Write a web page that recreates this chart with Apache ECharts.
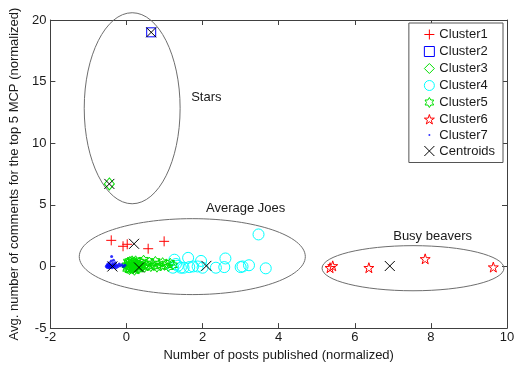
<!DOCTYPE html>
<html>
<head>
<meta charset="utf-8">
<script src="https://cdn.jsdelivr.net/npm/echarts@6/dist/echarts.min.js"></script>
<style>
  html, body { margin: 0; padding: 0; background: #fff; }
  #chart { width: 518px; height: 367px; }
</style>
</head>
<body>
<div id="chart"></div>
<script>
// ---- Data (normalized posts, normalized comments) ----
const cluster1 = [[-0.40, 2.12], [-0.09, 1.64], [0.02, 1.80], [0.57, 1.44], [0.99, 2.04]];
const cluster2 = [[0.65, 19.0]];
const cluster3 = [[-0.45, 6.7]];
const cluster4 = [
  [1.22, -0.10], [1.26, 0.55], [1.30, 0.20], [1.35, 0.05], [1.43, -0.10], [1.50, -0.10],
  [1.62, 0.70], [1.65, -0.05], [1.75, 0.00], [1.87, 0.00], [1.96, 0.45], [2.00, -0.10],
  [2.35, -0.10], [2.57, -0.05], [2.60, 0.65], [3.00, -0.05], [3.05, 0.00], [3.22, 0.10],
  [3.47, 2.60], [3.66, -0.15]
];
const cluster5 = [
  [0.00, 0.10], [0.02, -0.20], [0.03, -0.10], [0.04, 0.40], [0.05, 0.30], [0.06, 0.05],
  [0.07, 0.00], [0.08, -0.30], [0.09, 0.45], [0.10, -0.20], [0.11, 0.20], [0.12, 0.15],
  [0.13, -0.05], [0.14, 0.00], [0.15, 0.50], [0.16, 0.35], [0.17, -0.25], [0.18, -0.15],
  [0.19, 0.10], [0.20, 0.20], [0.21, -0.35], [0.22, 0.00], [0.23, 0.30], [0.24, 0.50],
  [0.25, -0.05], [0.26, -0.10], [0.27, 0.15], [0.28, 0.25], [0.29, -0.20], [0.30, 0.05],
  [0.32, -0.25], [0.34, 0.40], [0.36, 0.10], [0.38, -0.05], [0.40, 0.30], [0.42, 0.00],
  [0.45, 0.55], [0.48, -0.10], [0.52, 0.20], [0.56, 0.00], [0.60, 0.40], [0.64, -0.05],
  [0.68, 0.25], [0.72, 0.05], [0.76, 0.45], [0.80, -0.10], [0.85, 0.20], [0.90, 0.00],
  [0.95, 0.35], [1.00, 0.05], [1.05, 0.25], [1.10, -0.05], [1.15, 0.30], [1.22, 0.10]
];
const cluster6 = [[5.35, -0.10], [5.42, 0.05], [6.37, -0.10], [7.85, 0.62], [9.64, -0.05]];
const cluster7 = [
  [-0.53, 0.00], [-0.51, 0.10], [-0.50, -0.08], [-0.49, 0.20], [-0.47, 0.05], [-0.46, -0.10],
  [-0.45, 0.30], [-0.44, 0.10], [-0.43, -0.05], [-0.42, 0.15], [-0.41, 0.00], [-0.40, 0.45],
  [-0.39, 0.80], [-0.38, -0.10], [-0.37, 0.10], [-0.36, 0.25], [-0.35, 0.00], [-0.34, 0.50],
  [-0.33, -0.05], [-0.32, 0.15], [-0.30, 0.05], [-0.29, 0.30], [-0.27, -0.10], [-0.25, 0.10],
  [-0.22, 0.00], [-0.19, 0.20], [-0.16, 0.05], [-0.12, 0.15], [-0.08, 0.00], [-0.04, 0.10]
];
const centroids = [
  [0.20, 1.84], [0.65, 19.0], [-0.45, 6.7], [2.10, 0.05],
  [0.33, -0.08], [6.92, 0.04], [-0.37, 0.00]
];

const seriesNames = ['Cluster1', 'Cluster2', 'Cluster3', 'Cluster4', 'Cluster5', 'Cluster6', 'Cluster7', 'Centroids'];

// Axis ranges and ticks
const xTicks = { min: -2, max: 10, interval: 2 };
const yTicks = { min: -5, max: 20, interval: 5 };

// Group outlines: centre and radii in data units, plus their captions
const groupEllipses = [
  { cx: 0.15, cy: 12.84, rx: 1.26, ry: 7.75 },
  { cx: 1.73, cy: 0.80, rx: 2.97, ry: 3.08 },
  { cx: 7.53, cy: -0.14, rx: 2.39, ry: 1.83 }
];
const groupLabels = [
  { text: 'Stars', x: 1.70, y: 13.7 },
  { text: 'Average Joes', x: 2.09, y: 4.68 },
  { text: 'Busy beavers', x: 7.01, y: 2.44 }
];

// ---- Marker shapes ----
function starPath(points, innerRatio) {
  const c = 10, R = 10, r = R * innerRatio;
  let d = '';
  for (let i = 0; i < points * 2; i++) {
    const rad = (i % 2 === 0) ? R : r;
    const a = -Math.PI / 2 + i * Math.PI / points;
    const px = (c + rad * Math.cos(a)).toFixed(3);
    const py = (c + rad * Math.sin(a)).toFixed(3);
    d += (i === 0 ? 'M' : 'L') + px + ',' + py;
  }
  return 'path://' + d + 'Z';
}
const SYM_PLUS = 'path://M0,5L10,5M5,0L5,10';
const SYM_X = 'path://M0,0L10,10M10,0L0,10';
const SYM_HEX = starPath(6, 0.5774);
const SYM_PENT = starPath(5, 0.382);
const SYM_DOT_LEGEND = 'path://M0,0L0,0M10,10L10,10M4,5A1,1,0,1,0,6,5A1,1,0,1,0,4,5Z';

const RED = '#ff0000', BLUE = '#0000ff', GREEN = '#00e000', CYAN = '#00ffff', BLACK = '#000000';

function outlineStyle(color) {
  return { color: 'none', borderColor: color, borderWidth: 1, opacity: 1 };
}

const font = '"Liberation Sans", Arial, Helvetica, sans-serif';
const axisColor = '#404040';
const textColor = '#1a1a1a';

const chart = echarts.init(document.getElementById('chart'), null, { renderer: 'canvas' });

function axisBase(extra) {
  return Object.assign({
    type: 'value',
    axisLine: { show: true, onZero: false, lineStyle: { color: axisColor, width: 1 } },
    axisTick: { show: true, inside: true, length: 5, lineStyle: { color: axisColor } },
    splitLine: { show: false },
    axisLabel: { show: false }
  }, extra);
}

function legendItem(name, icon, color) {
  return {
    name: name,
    icon: icon,
    itemStyle: { color: 'none', borderColor: color, borderWidth: 1 }
  };
}

chart.setOption({
  animation: false,
  backgroundColor: '#fff',
  textStyle: { fontFamily: font },
  grid: { left: 48, right: 11, top: 20, bottom: 35, containLabel: false },
  xAxis: [
    axisBase(Object.assign({}, xTicks, {
      position: 'bottom',
      name: 'Number of posts published (normalized)',
      nameLocation: 'middle',
      nameGap: 18,
      nameTextStyle: { fontSize: 13, color: textColor, fontFamily: font },
      axisLabel: { show: true, fontSize: 13, color: textColor, margin: 3, fontFamily: font }
    })),
    axisBase(Object.assign({}, xTicks, { position: 'top' }))
  ],
  yAxis: [
    axisBase(Object.assign({}, yTicks, {
      position: 'left',
      name: 'Avg. number of comments for the top 5 MCP (normalized)',
      nameLocation: 'middle',
      nameGap: 28,
      nameTextStyle: { fontSize: 13, color: textColor, fontFamily: font },
      axisLabel: { show: true, fontSize: 13, color: textColor, margin: 4, fontFamily: font }
    })),
    axisBase(Object.assign({}, yTicks, { position: 'right' }))
  ],
  legend: {
    orient: 'vertical',
    right: 15,
    top: 23,
    backgroundColor: '#fff',
    borderColor: '#555',
    borderWidth: 1,
    borderRadius: 0,
    padding: [4, 8, 4, 13],
    itemWidth: 10,
    itemHeight: 10,
    itemGap: 2,
    itemStyle: { borderWidth: 1 },
    textStyle: { fontSize: 13, color: textColor, fontFamily: font },
    data: [
      legendItem('Cluster1', SYM_PLUS, RED),
      legendItem('Cluster2', 'rect', BLUE),
      legendItem('Cluster3', 'diamond', GREEN),
      legendItem('Cluster4', 'circle', CYAN),
      legendItem('Cluster5', SYM_HEX, GREEN),
      legendItem('Cluster6', SYM_PENT, RED),
      { name: 'Cluster7', icon: SYM_DOT_LEGEND, itemStyle: { color: BLUE, borderWidth: 0 } },
      legendItem('Centroids', SYM_X, BLACK)
    ]
  },
  series: [
    { name: seriesNames[0], type: 'scatter', data: cluster1, symbol: SYM_PLUS, symbolSize: 10, itemStyle: outlineStyle(RED) },
    { name: seriesNames[1], type: 'scatter', data: cluster2, symbol: 'rect', symbolSize: 9, itemStyle: outlineStyle(BLUE) },
    { name: seriesNames[2], type: 'scatter', data: cluster3, symbol: 'diamond', symbolSize: [10, 12], itemStyle: outlineStyle(GREEN) },
    { name: seriesNames[3], type: 'scatter', data: cluster4, symbol: 'circle', symbolSize: 11, itemStyle: outlineStyle(CYAN) },
    { name: seriesNames[4], type: 'scatter', data: cluster5, symbol: SYM_HEX, symbolSize: 9, itemStyle: outlineStyle(GREEN) },
    { name: seriesNames[5], type: 'scatter', data: cluster6, symbol: SYM_PENT, symbolSize: 10, itemStyle: outlineStyle(RED) },
    { name: seriesNames[6], type: 'scatter', data: cluster7, symbol: 'circle', symbolSize: 3, itemStyle: { color: BLUE } },
    { name: seriesNames[7], type: 'scatter', data: centroids, symbol: SYM_X, symbolSize: 10, z: 5, itemStyle: outlineStyle(BLACK) }
  ]
});

// Outlines and captions for the three user groups, placed through the axes
function toPx(x, y) {
  return chart.convertToPixel({ xAxisIndex: 0, yAxisIndex: 0 }, [x, y]);
}
const graphics = [];
groupEllipses.forEach(function (e) {
  const c = toPx(e.cx, e.cy);
  const ex = toPx(e.cx + e.rx, e.cy);
  const ey = toPx(e.cx, e.cy + e.ry);
  graphics.push({
    type: 'ellipse',
    shape: { cx: c[0], cy: c[1], rx: Math.abs(ex[0] - c[0]), ry: Math.abs(c[1] - ey[1]) },
    style: { fill: 'none', stroke: '#6e6e6e', lineWidth: 1 },
    z: 1, silent: true
  });
});
groupLabels.forEach(function (t) {
  const p = toPx(t.x, t.y);
  graphics.push({
    type: 'text',
    x: p[0], y: p[1],
    style: { text: t.text, fill: textColor, font: '13px ' + font, textAlign: 'left', textVerticalAlign: 'middle' },
    z: 10, silent: true
  });
});
chart.setOption({ graphic: graphics });
</script>
</body>
</html>
